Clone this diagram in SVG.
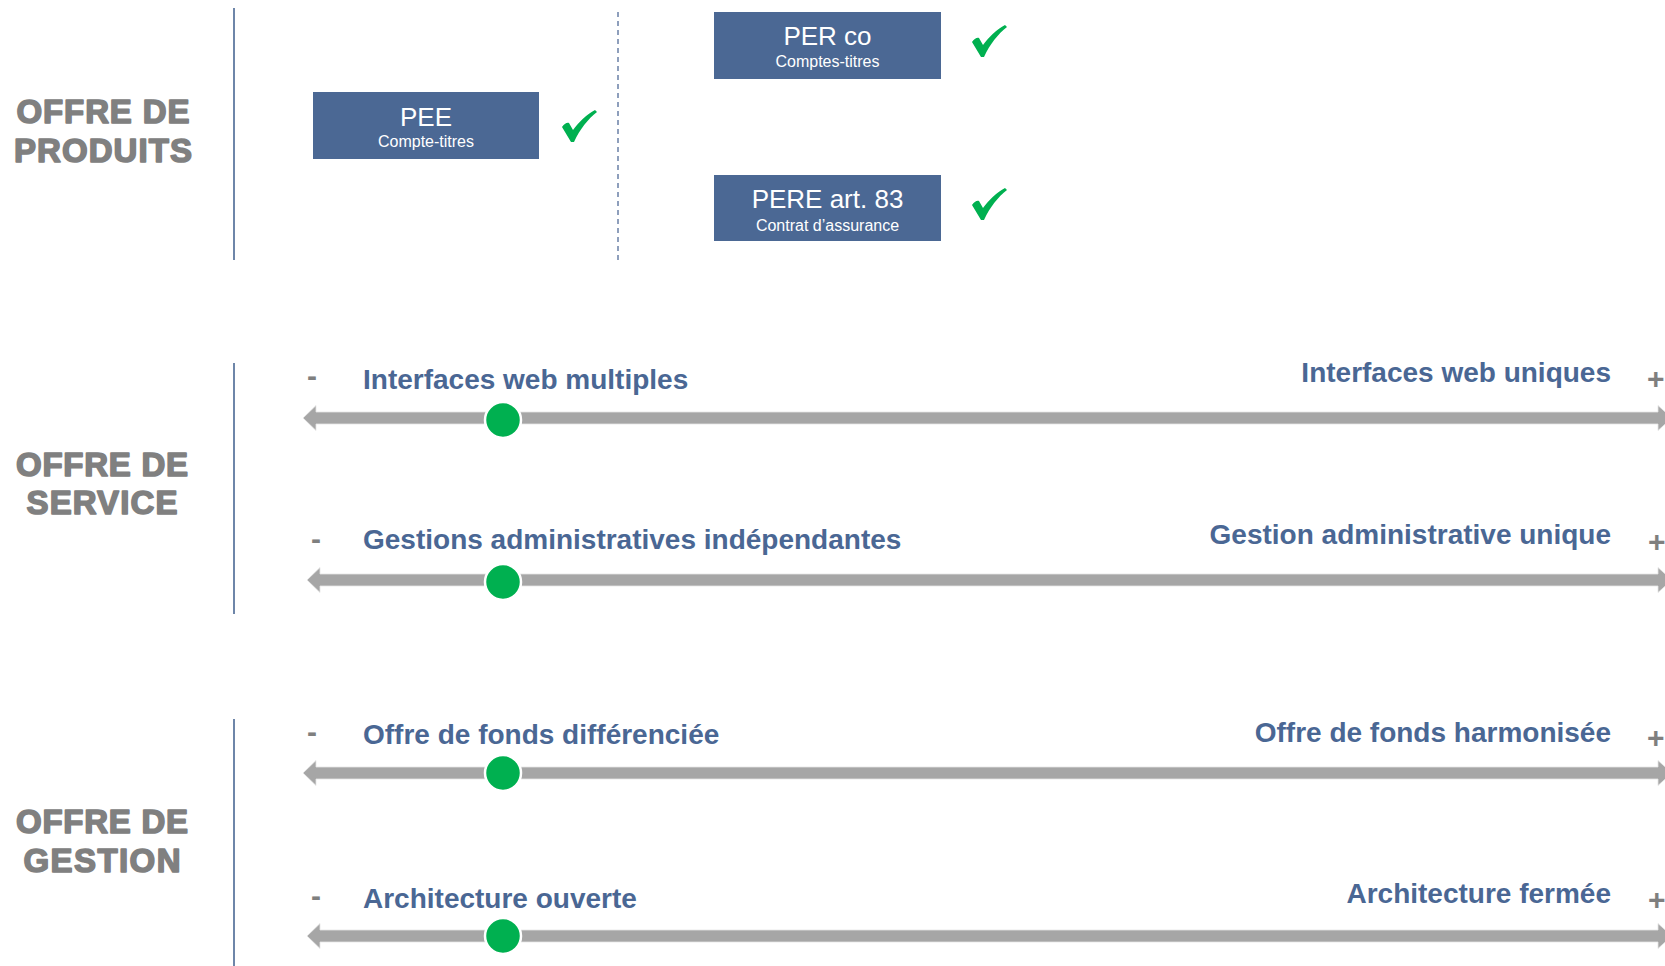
<svg xmlns="http://www.w3.org/2000/svg" width="1665" height="966" viewBox="0 0 1665 966">
  <style>
    .head { font-family: "Liberation Sans", Arial, sans-serif; font-weight: bold; font-size: 33px; fill: #808080; stroke: #808080; stroke-width: 1.6; stroke-linejoin: round; text-anchor: middle; }
    .box { fill: #4B6894; }
    .bt { font-family: "Liberation Sans", Arial, sans-serif; fill: #FFFFFF; text-anchor: middle; }
    .big { font-size: 26px; }
    .small { font-size: 16px; }
    .lab { font-family: "Liberation Sans", Arial, sans-serif; font-weight: bold; font-size: 28px; fill: #4A6794; }
    .end { text-anchor: end; }
    .sign { font-family: "Liberation Sans", Arial, sans-serif; font-weight: bold; font-size: 30px; fill: #7F7F7F; }
    .bar { fill: #A6A6A6; stroke: #E6E6E6; stroke-width: 0.8; }
    .dot { fill: #00B050; stroke: #FFFFFF; stroke-width: 2.5; }
    .sep { stroke: #4A6894; stroke-width: 1.6; fill: none; }
    .dash { stroke: #8E9FBC; stroke-width: 2; stroke-dasharray: 5 4; fill: none; }
  </style>
  <defs>
    <path id="check" d="M0,17 C2,14 5,12 7,13 L11,20 C17,12 25,4 33,0 L35,2 C26,9 18,19 12,32 L9,32 Z" fill="#00B050"/>
  </defs>
  <rect width="1665" height="966" fill="#FFFFFF"/>

  <g id="separators">
    <line class="sep" x1="234" y1="8" x2="234" y2="260"/>
    <line class="sep" x1="234" y1="363" x2="234" y2="614"/>
    <line class="sep" x1="234" y1="719" x2="234" y2="966"/>
    <line class="dash" x1="618" y1="12" x2="618" y2="263"/>
  </g>

  <g id="heading-produits">
    <text class="head" x="103" y="123" textLength="173" lengthAdjust="spacing">OFFRE DE</text>
    <text class="head" x="103" y="162" textLength="178" lengthAdjust="spacing">PRODUITS</text>
  </g>
  <g id="heading-service">
    <text class="head" x="102" y="476" textLength="172" lengthAdjust="spacing">OFFRE DE</text>
    <text class="head" x="102" y="514" textLength="151" lengthAdjust="spacing">SERVICE</text>
  </g>
  <g id="heading-gestion">
    <text class="head" x="102" y="833" textLength="172" lengthAdjust="spacing">OFFRE DE</text>
    <text class="head" x="102" y="872" textLength="157" lengthAdjust="spacing">GESTION</text>
  </g>

  <g id="node-pee">
    <rect class="box" x="313" y="92" width="226" height="67"/>
    <text class="bt big" x="426" y="126">PEE</text>
    <text class="bt small" x="426" y="147">Compte-titres</text>
    <use href="#check" x="562" y="110"/>
  </g>
  <g id="node-perco">
    <rect class="box" x="714" y="12" width="227" height="67"/>
    <text class="bt big" x="827.5" y="45">PER co</text>
    <text class="bt small" x="827.5" y="67">Comptes-titres</text>
    <use href="#check" x="972" y="25"/>
  </g>
  <g id="node-pere">
    <rect class="box" x="714" y="175" width="227" height="66"/>
    <text class="bt big" x="827.5" y="208">PERE art. 83</text>
    <text class="bt small" x="827.5" y="231">Contrat d’assurance</text>
    <use href="#check" x="972" y="188"/>
  </g>

  <g id="connectors">
    <polygon class="bar" points="303,418 316,405.5 316,412 1658,412 1658,405.5 1672,418 1658,430.5 1658,424 316,424 316,430.5"/>
    <polygon class="bar" points="307,580 320,567.5 320,574 1658,574 1658,567.5 1672,580 1658,592.5 1658,586 320,586 320,592.5"/>
    <polygon class="bar" points="303,773 316,760.5 316,767 1658,767 1658,760.5 1672,773 1658,785.5 1658,779 316,779 316,785.5"/>
    <polygon class="bar" points="307,936 320,923.5 320,930 1658,930 1658,923.5 1672,936 1658,948.5 1658,942 320,942 320,948.5"/>
  </g>

  <g id="slider-interfaces">
    <text class="sign" x="307" y="386">-</text>
    <text class="lab" x="363" y="389">Interfaces web multiples</text>
    <text class="lab end" x="1611" y="382">Interfaces web uniques</text>
    <text class="sign" x="1647" y="389">+</text>
    <circle class="dot" cx="503" cy="420" r="18"/>
  </g>
  <g id="slider-gestion-admin">
    <text class="sign" x="311" y="549">-</text>
    <text class="lab" x="363" y="549">Gestions administratives indépendantes</text>
    <text class="lab end" x="1611" y="544">Gestion administrative unique</text>
    <text class="sign" x="1648" y="552">+</text>
    <circle class="dot" cx="503" cy="582" r="18"/>
  </g>
  <g id="slider-fonds">
    <text class="sign" x="307" y="742">-</text>
    <text class="lab" x="363" y="744">Offre de fonds différenciée</text>
    <text class="lab end" x="1611" y="742">Offre de fonds harmonisée</text>
    <text class="sign" x="1647" y="748">+</text>
    <circle class="dot" cx="503" cy="773" r="18"/>
  </g>
  <g id="slider-architecture">
    <text class="sign" x="311" y="906">-</text>
    <text class="lab" x="363" y="908">Architecture ouverte</text>
    <text class="lab end" x="1611" y="903">Architecture fermée</text>
    <text class="sign" x="1648" y="910">+</text>
    <circle class="dot" cx="503" cy="936" r="18"/>
  </g>
</svg>
